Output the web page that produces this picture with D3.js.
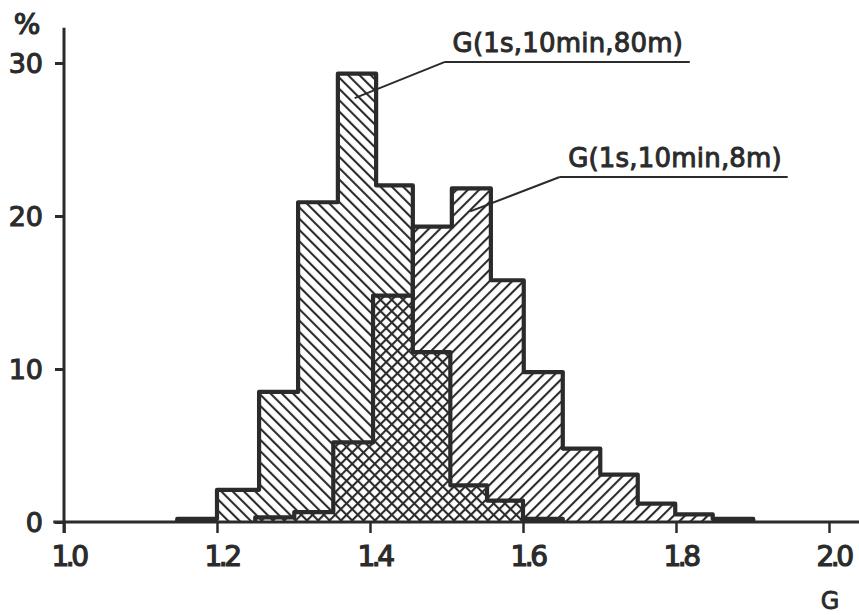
<!DOCTYPE html>
<html>
<head>
<meta charset="utf-8">
<script src="https://cdn.jsdelivr.net/npm/d3@7/dist/d3.min.js"></script>
<style>
  html, body { margin: 0; padding: 0; background: #ffffff; }
  svg { display: block; }
  text { font-family: "DejaVu Sans", sans-serif; fill: #2b2b2b; }
</style>
</head>
<body>
<svg id="chart" width="859" height="615"></svg>
<script>
// ---- data ----
// G(1s,10min,80m): bin edges (G) and percentages
const edgesA = [1.148, 1.200, 1.255, 1.306, 1.358, 1.408, 1.456, 1.505, 1.553, 1.600, 1.652];
const pctA   = [0.2, 2.1, 8.5, 20.9, 29.3, 22.0, 11.1, 2.4, 1.4, 0.2];
// G(1s,10min,8m)
const edgesB = [1.250, 1.301, 1.352, 1.404, 1.456, 1.507, 1.558, 1.601, 1.652, 1.701, 1.750, 1.799, 1.848, 1.901];
const pctB   = [0.3, 0.65, 5.2, 14.8, 19.3, 21.8, 15.8, 9.8, 4.8, 3.1, 1.2, 0.5, 0.2];
const xTicks = [1.0, 1.2, 1.4, 1.6, 1.8, 2.0];
const xTickLabels = ["1.0", "1.2", "1.4", "1.6", "1.8", "2.0"];
const yTicks = [0, 10, 20, 30];
const yTickLabels = ["0", "10", "20", "30"];
const seriesNames = ["G(1s,10min,80m)", "G(1s,10min,8m)"];

const ink = "#2b2b2b";
const svg = d3.select("#chart");
const x = d3.scaleLinear().domain([1.0, 2.0]).range([64, 829]);
const y = d3.scaleLinear().domain([0, 30]).range([522, 63]);

// hatch patterns
const defs = svg.append("defs");
function hatch(id, angle) {
  const p = defs.append("pattern").attr("id", id)
    .attr("patternUnits", "userSpaceOnUse")
    .attr("width", 8).attr("height", 8)
    .attr("patternTransform", `rotate(${angle})`);
  p.append("line").attr("x1", 1).attr("y1", -1).attr("x2", 1).attr("y2", 9)
    .attr("stroke", ink).attr("stroke-width", 2.2);
}
hatch("back", -45);   // "\\\\"
hatch("fwd", 45);     // "////"

function stepPoints(edges, vals) {
  const pts = [[edges[0], 0]];
  vals.forEach((v, i) => { pts.push([edges[i], v]); pts.push([edges[i + 1], v]); });
  pts.push([edges[edges.length - 1], 0]);
  return pts;
}
const line = d3.line().x(d => x(d[0])).y(d => y(d[1]));

const ptsA = stepPoints(edgesA, pctA);
const ptsB = stepPoints(edgesB, pctB);

svg.append("path").attr("d", line(ptsA) + "Z").attr("fill", "url(#back)").attr("stroke", "none");
svg.append("path").attr("d", line(ptsB) + "Z").attr("fill", "url(#fwd)").attr("stroke", "none");
[ptsA, ptsB].forEach(p => {
  svg.append("path").attr("d", line(p)).attr("fill", "none")
    .attr("stroke", ink).attr("stroke-width", 4.2).attr("stroke-linejoin", "round");
});

// axes lines
svg.append("line").attr("x1", x(1.0)).attr("x2", x(1.0)).attr("y1", y(32.3)).attr("y2", y(0) + 11)
  .attr("stroke", ink).attr("stroke-width", 3);
svg.append("line").attr("x1", x(0.986)).attr("x2", 859).attr("y1", y(0)).attr("y2", y(0))
  .attr("stroke", ink).attr("stroke-width", 3);

// y axis ticks & labels
const yAxis = d3.axisLeft(y).tickValues(yTicks).tickSize(9).tickPadding(12)
  .tickFormat((d, i) => yTickLabels[i]);
const gy = svg.append("g").attr("transform", `translate(${x(1.0)},0)`).call(yAxis);
gy.select(".domain").remove();
gy.selectAll(".tick line").attr("stroke", ink).attr("stroke-width", 3);
gy.selectAll(".tick text").attr("font-size", 27).attr("font-family", "DejaVu Sans")
  .attr("fill", ink).attr("stroke", ink).attr("stroke-width", 1.1).attr("dy", "0.36em");

// x axis ticks & labels
const xAxis = d3.axisBottom(x).tickValues(xTicks).tickSize(11).tickPadding(13)
  .tickFormat((d, i) => xTickLabels[i]);
const gx = svg.append("g").attr("transform", `translate(0,${y(0)})`).call(xAxis);
gx.select(".domain").remove();
gx.selectAll(".tick line").attr("stroke", ink).attr("stroke-width", 2.5);
gx.selectAll(".tick text").attr("font-size", 28).attr("font-family", "DejaVu Sans")
  .attr("letter-spacing", -3.5).attr("dx", 4)
  .attr("fill", ink).attr("stroke", ink).attr("stroke-width", 1.2).attr("dy", "0.72em");

// axis titles
svg.append("text").attr("x", 27).attr("y", 34).attr("text-anchor", "middle")
  .attr("font-size", 28).attr("stroke", ink).attr("stroke-width", 1.2).text("%");
svg.append("text").attr("x", x(2.0) + 1).attr("y", 609).attr("text-anchor", "middle")
  .attr("font-size", 24).attr("stroke", ink).attr("stroke-width", 0.8).text("G");

// annotations (positions in data units)
const notes = [
  { name: seriesNames[0], tx: 1.508, ty: 30.7, u1: 1.498, u2: 1.818, uy: 30.07, lx: 1.380, ly: 27.7 },
  { name: seriesNames[1], tx: 1.659, ty: 23.2, u1: 1.648, u2: 1.946, uy: 22.55, lx: 1.531, ly: 20.3 }
];
notes.forEach(n => {
  svg.append("text").attr("x", x(n.tx)).attr("y", y(n.ty)).attr("font-size", 26)
    .attr("stroke", ink).attr("stroke-width", 1.0).attr("letter-spacing", 0.2).text(n.name);
  svg.append("line").attr("x1", x(n.u1)).attr("x2", x(n.u2)).attr("y1", y(n.uy)).attr("y2", y(n.uy))
    .attr("stroke", ink).attr("stroke-width", 2);
  svg.append("line").attr("x1", x(n.u1)).attr("x2", x(n.lx)).attr("y1", y(n.uy)).attr("y2", y(n.ly))
    .attr("stroke", ink).attr("stroke-width", 2);
});
</script>
</body>
</html>
